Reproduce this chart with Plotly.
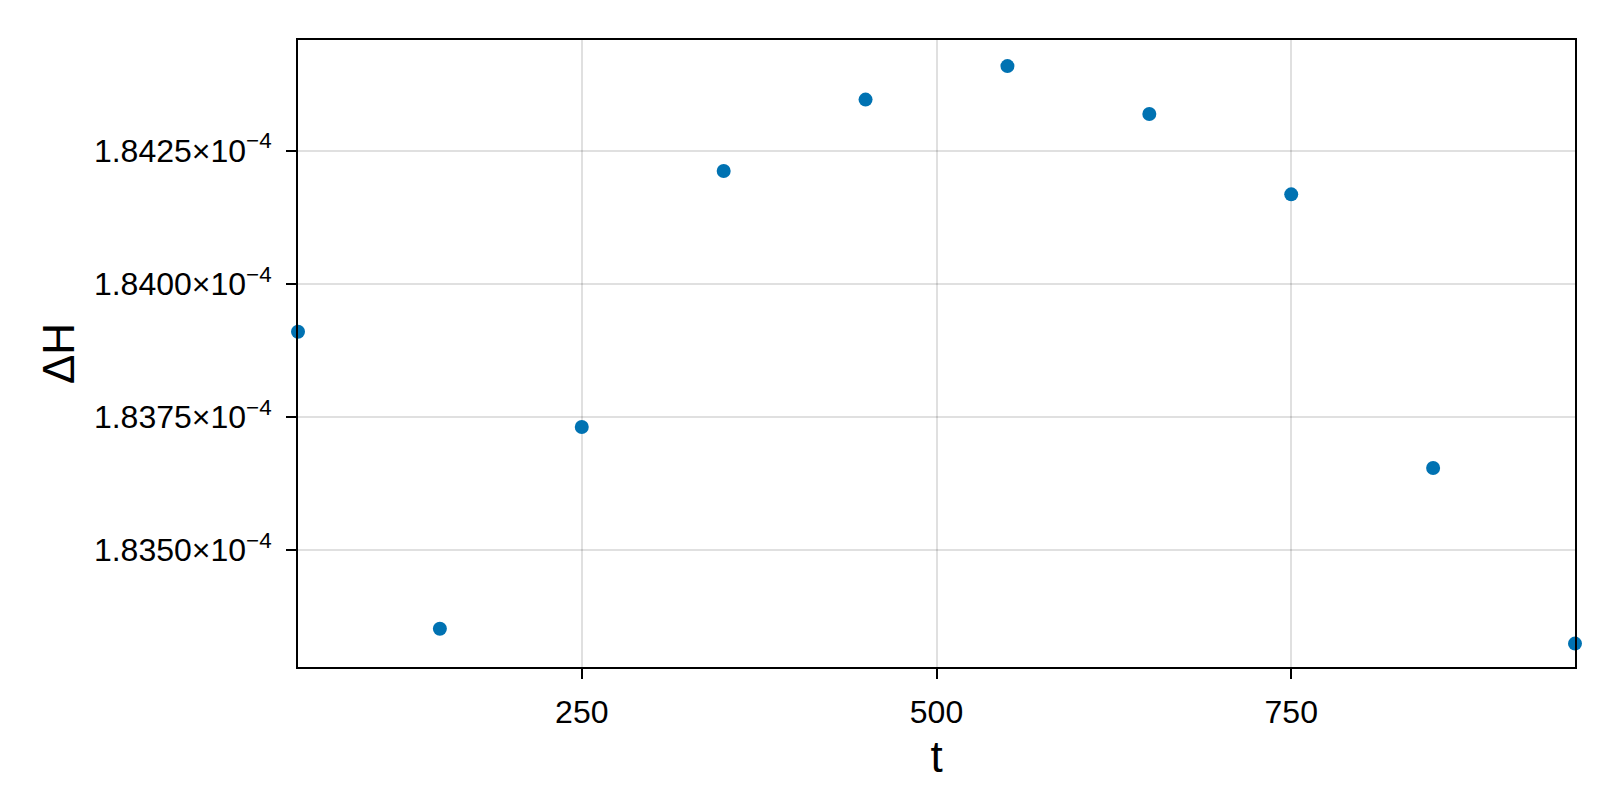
import plotly.graph_objects as go

# Données : temps et variation de H
t = [50, 150, 250, 350, 450, 550, 650, 750, 850, 950]
delta_h = [1.83910e-4, 1.83352e-4, 1.83731e-4, 1.84212e-4, 1.84346e-4,
           1.84409e-4, 1.84319e-4, 1.84168e-4, 1.83654e-4, 1.83324e-4]

# Graduations
x_ticks = [250, 500, 750]
y_ticks = [1.8350e-4, 1.8375e-4, 1.8400e-4, 1.8425e-4]
y_tick_labels = ['1.8350×10<sup>−4</sup>', '1.8375×10<sup>−4</sup>',
                 '1.8400×10<sup>−4</sup>', '1.8425×10<sup>−4</sup>']

fig = go.Figure()
fig.add_trace(go.Scatter(
    x=t, y=delta_h, mode='markers',
    marker=dict(color='rgb(0,114,178)', size=14, line=dict(width=0)),
    cliponaxis=False, showlegend=False,
))

axis_common = dict(
    showline=True, linecolor='black', linewidth=2, mirror=True,
    ticks='outside', ticklen=10, tickwidth=2, tickcolor='black',
    showgrid=True, gridcolor='rgba(0,0,0,0.12)', gridwidth=2,
    zeroline=False, tickfont=dict(size=32, color='black'),
)

fig.update_xaxes(
    range=[50, 950], tickvals=x_ticks, ticklabelstandoff=6,
    title=dict(text='t', font=dict(size=44, color='black'), standoff=12),
    **axis_common,
)
fig.update_yaxes(
    range=[1.83280e-4, 1.84458e-4], tickvals=y_ticks, ticktext=y_tick_labels,
    ticklabelstandoff=8,
    title=dict(text='ΔH', font=dict(size=44, color='black'), standoff=6),
    **axis_common,
)

fig.update_layout(
    width=1600, height=800,
    margin=dict(l=290, r=33, t=32, b=141),
    plot_bgcolor='white', paper_bgcolor='white',
    font=dict(family='Liberation Sans, Arial, sans-serif', color='black'),
)

fig.write_html('out.html')
print('out.html généré avec succès !')
